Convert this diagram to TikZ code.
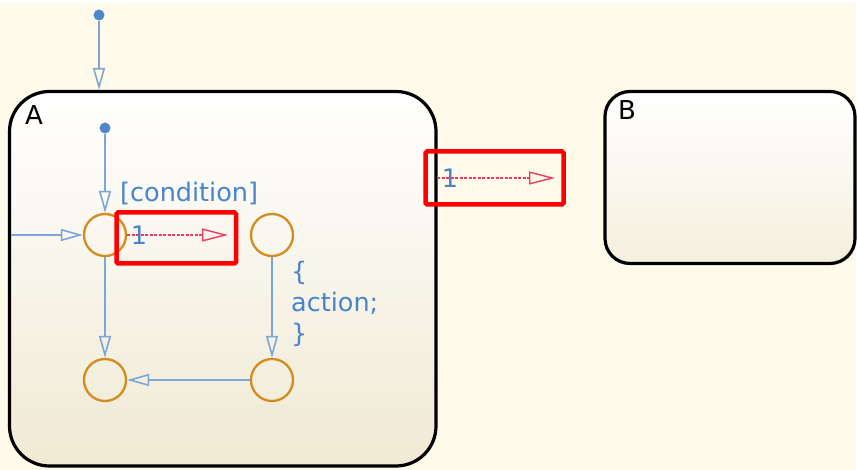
\documentclass[tikz,border=0pt]{standalone}
\usepackage{fontspec}
\setmainfont{DejaVu Sans}
\usetikzlibrary{arrows.meta}
\definecolor{bgcream}{RGB}{255,250,234}
\definecolor{txtblue}{RGB}{72,132,202}
\definecolor{lnblue}{RGB}{125,166,216}
\definecolor{dotblue}{RGB}{80,136,204}
\definecolor{junc}{RGB}{212,140,30}
\definecolor{trred}{RGB}{235,60,95}
\definecolor{stbot}{RGB}{240,234,212}
\definecolor{stbotB}{RGB}{244,239,221}
\tikzset{
  x=1pt, y=-1pt,
  statebox/.style={draw=black, line width=3.2pt, top color=white, inner sep=0pt},
  junction/.style={circle, draw=junc, line width=2.3pt, minimum size=42pt, inner sep=0pt},
  defdot/.style={circle, fill=dotblue, minimum size=11pt, inner sep=0pt},
  bluetr/.style={draw=lnblue, line width=1.6pt, -{Triangle[open,length=22pt,width=12pt]}},
  redtr/.style={draw=trred, line width=1.4pt, dash pattern=on 3pt off 1.5pt,
     -{Triangle[open,length=26pt,width=13pt,line width=1.4pt]}},
  lbl/.style={text=txtblue, inner sep=0pt, font=\fontsize{25.5}{31}\selectfont},
  hlbox/.style={draw=red, line width=4.5pt, rounded corners=1.5pt, inner sep=0pt},
  statename/.style={text=black, inner sep=0pt, font=\fontsize{26}{30}\selectfont}
}
\begin{document}
\begin{tikzpicture}
\useasboundingbox (0,0) rectangle (857,470);
\fill[white] (0,0) rectangle (857,470);
\fill[bgcream] (0,3) rectangle (856,470);
% states
\node[statebox, bottom color=stbot, rounded corners=40pt, minimum width=426.5pt, minimum height=374.5pt] (A) at (222.75,278.75) {};
\node[statebox, bottom color=stbotB, rounded corners=25pt, minimum width=250pt, minimum height=172pt] (B) at (730,177.5) {};
\node[statename, anchor=base west] (Alab) at (25,125) {A};
\node[statename, anchor=base west] (Blab) at (618,120) {B};
% default transitions
\node[defdot] (d0) at (99,15) {};
\node[defdot] (d1) at (105,128) {};
\coordinate (atop) at (99,90);
\draw[bluetr] (d0) -- (atop);
% junctions
\node[junction] (j1) at (105,235) {};
\node[junction] (j2) at (272,235) {};
\node[junction] (j3) at (105,380) {};
\node[junction] (j4) at (272,380) {};
\draw[bluetr] (d1) -- (j1);
\coordinate (lin) at (11,235);
\draw[bluetr] (lin) -- (j1);
\draw[bluetr] (j1) -- (j3);
\draw[bluetr] (j2) -- (j4);
\draw[bluetr] (j4) -- (j3);
% red transitions
\coordinate (r1e) at (228,235);
\draw[redtr] (j1) -- (r1e);
\coordinate (r2s) at (437,178);
\coordinate (r2e) at (555,178);
\draw[redtr] (r2s) -- (r2e);
% labels
\node[lbl, anchor=base west] (cond) at (120,202) {[condition]};
\node[lbl, anchor=base] (one1) at (139,245) {1};
\node[lbl, anchor=base] (one2) at (450,188) {1};
\node[lbl, anchor=west, align=left] (act) at (291,304) {\{\\action;\\\}};
% highlight boxes
\node[hlbox, minimum width=119.5pt, minimum height=51pt] (hl1) at (176.25,238) {};
\node[hlbox, minimum width=138pt, minimum height=53pt] (hl2) at (494.5,178) {};
\end{tikzpicture}
\end{document}
